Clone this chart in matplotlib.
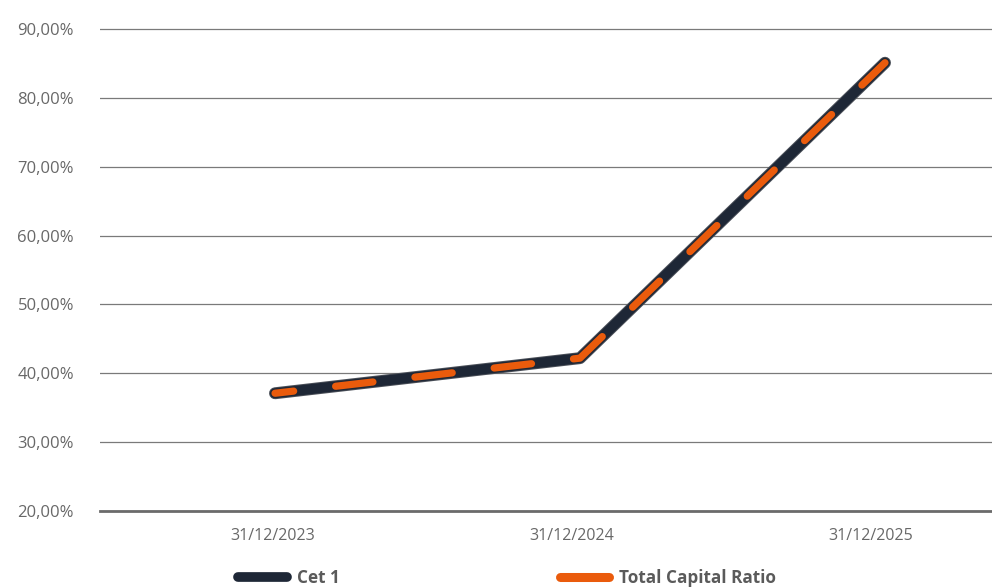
import matplotlib
matplotlib.use("Agg")
import matplotlib.pyplot as plt
import matplotlib.patheffects as pe
import matplotlib.transforms as mtransforms
from matplotlib.lines import Line2D
from matplotlib.ticker import FuncFormatter

# ---------------------------------------------------------------------------#
# Data
dates = ["31/12/2023", "31/12/2024", "31/12/2025"]
cet1 = [37.1, 42.2, 85.1]
totalCapitalRatio = [37.1, 42.2, 85.1]
yTicks = [20, 30, 40, 50, 60, 70, 80, 90]

# Colours
navy = "#1e2736"
orange = "#ea5b0c"
textGrey = "#686868"
gridGrey = "#7a7a7a"

plt.rcParams['font.family'] = ['Open Sans', 'DejaVu Sans']

# ---------------------------------------------------------------------------#
fig = plt.figure(figsize=(9.92, 5.87), dpi=100)
yMin, yMax = 20, 90.3
axBottom = 1 - 511 / 587
pxPerUnit = (511 - 29) / 70.0
axTop = axBottom + (yMax - yMin) * pxPerUnit / 587
ax = fig.add_axes([100 / 992, axBottom, 1 - 100 / 992, axTop - axBottom])

xPos = list(range(len(dates)))

# Cet 1: thick navy line with thin grey outline
ax.plot(xPos, cet1, color=navy, linewidth=7.2, solid_capstyle='round', solid_joinstyle='round',
        path_effects=[pe.Stroke(linewidth=8.6, foreground="#4a4f58"), pe.Normal()], zorder=3)
# Total Capital Ratio: dashed orange on top
ax.plot(xPos, totalCapitalRatio, color=orange, linewidth=5.2, linestyle=(2.6, (5.2, 5.85)),
        dash_capstyle='round', dash_joinstyle='round', zorder=4)

# Axes setup
ax.set_xlim((100 - 275) / 305, (992 - 275) / 305)
ax.set_ylim(yMin, yMax)
ax.set_yticks(yTicks)
ax.yaxis.set_major_formatter(FuncFormatter(lambda v, _: f"{v:.2f}%".replace(".", ",")))
ax.set_xticks(xPos)
ax.set_xticklabels(dates)
ax.tick_params(axis='both', length=0, labelcolor=textGrey)
ax.tick_params(axis='y', pad=18.7, labelsize=12)
ax.tick_params(axis='x', pad=12, labelsize=11.5)
# the date labels sit slightly left of their points in the original
for label, dx in zip(ax.get_xticklabels(), [-2, -8, -14]):
    shift = mtransforms.ScaledTranslation(dx / 100, 0, fig.dpi_scale_trans)
    label.set_transform(label.get_transform() + shift)
ax.grid(axis='y', color=gridGrey, linewidth=0.9)
ax.set_axisbelow(True)
for side in ['top', 'right', 'left']:
    ax.spines[side].set_visible(False)
ax.spines['bottom'].set_color("#6b6b6b")
ax.spines['bottom'].set_linewidth(2)

# Legend
handles = [Line2D([0], [0], color=navy, linewidth=7, solid_capstyle='round'),
           Line2D([0], [0], color=orange, linewidth=6.5, solid_capstyle='round')]
legend = fig.legend(handles, ["Cet 1", "Total Capital Ratio"], loc='center', ncol=2,
                    bbox_to_anchor=(507 / 992, 1 - 578 / 587), frameon=False,
                    handlelength=2.85, handletextpad=0.6, columnspacing=12.9,
                    prop={'weight': 'bold', 'size': 12.3})
for text in legend.get_texts():
    text.set_color("#5a5a5a")

fig.savefig("out.png", dpi=100)
